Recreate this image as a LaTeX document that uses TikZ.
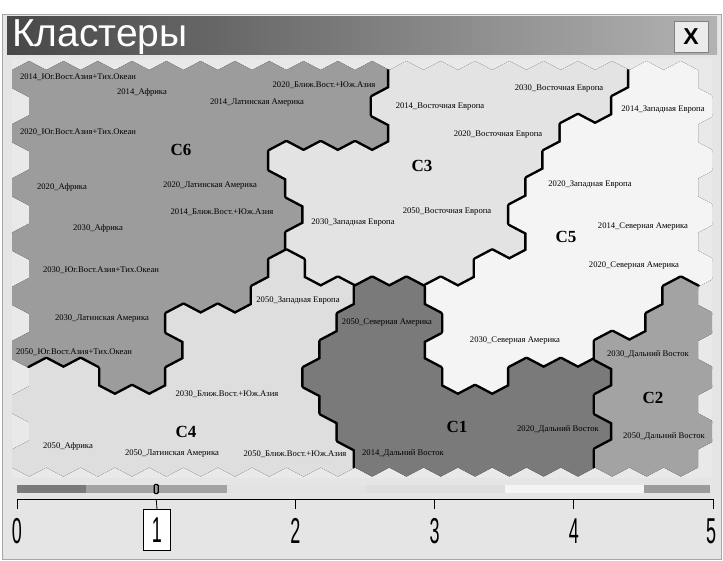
\documentclass[tikz,border=0pt]{standalone}
\usepackage{fontspec}
\usepackage{graphicx}
\setmainfont{Liberation Serif}
\newfontfamily\uisans{Liberation Sans}

% оттенки кластеров
\definecolor{clOne}{gray}{0.48}
\definecolor{clTwo}{gray}{0.64}
\definecolor{clThree}{gray}{0.89}
\definecolor{clFour}{gray}{0.87}
\definecolor{clFive}{gray}{0.955}
\definecolor{clSix}{gray}{0.61}
\definecolor{mapbg}{gray}{0.915}
\definecolor{framebg}{gray}{0.9}

% одна ячейка карты: строка #1, столбец #2
\newcommand\hexcell[2]{({12+(#2+0.5+0.5*mod(#1,2))*34.3},{61+27.1*#1}) -- ++(17.15,9.035) -- ++(0,18.07) -- ++(-17.15,9.035) -- ++(-17.15,-9.035) -- ++(0,-18.07) -- cycle}
% кластер: цвет #1, отрезки строк #2 (строка/от/до)
\newcommand\hexcluster[2]{%
  \draw[line width=5pt, line join=round] foreach \r/\a/\b in {#2} { foreach \c in {\a,...,\b} { \hexcell{\r}{\c} } };
  \fill[#1] foreach \r/\a/\b in {#2} { foreach \c in {\a,...,\b} { \hexcell{\r}{\c} } };
}

\tikzset{
  lbl/.style={inner sep=0pt, font=\fontsize{8.6}{9}\selectfont},
  clname/.style={inner sep=0pt, font=\fontsize{17}{18}\selectfont\bfseries},
  digit/.style={inner sep=1.5pt, font=\uisans\fontsize{36}{36}\selectfont},
}

\begin{document}
\begin{tikzpicture}[x=1pt, y=-1pt]
  \useasboundingbox (0,0) rectangle (723,561);
  \fill[white] (0,0) rectangle (723,561);

  % окно
  \fill[framebg] (2,14) rectangle (721,559);
  \draw[gray!70] (2,14) rectangle (721,559);
  \shade[left color=black!72, right color=black!30] (7,17) rectangle (717,55);
  \node[anchor=west, inner sep=0pt, text=white, font=\uisans\fontsize{39}{39}\selectfont] (title) at (12,37) {Кластеры};
  \node[draw=gray, fill=black!8, minimum width=34pt, minimum height=31pt, inner sep=0pt,
        font=\uisans\bfseries\fontsize{23}{23}\selectfont] (close) at (691,37) {X};

  % карта
  \fill[mapbg] (12,59) rectangle (712,478);
  \begin{scope}
    \clip (12,59) rectangle (712,478);
    \clip foreach \r in {0,...,14} { foreach \c in {0,...,19} { \hexcell{\r}{\c} } };
    \hexcluster{clSix}{0/0/10, 1/0/9, 2/0/10, 3/0/6, 4/0/7, 5/0/7, 6/0/7, 7/0/6, 8/0/6, 9/0/3, 10/0/4, 11/2/3}
    \hexcluster{clThree}{0/11/17, 1/10/16, 2/11/15, 3/7/14, 4/8/14, 5/8/13, 6/8/14, 7/8/12}
    \hexcluster{clFive}{0/18/19, 1/17/19, 2/16/19, 3/15/19, 4/15/19, 5/14/19, 6/15/19, 7/13/19, 8/12/18, 9/12/17, 10/12/16, 11/12/13}
    \hexcluster{clFour}{7/7/7, 8/7/9, 9/4/8, 10/5/8, 11/0/1, 11/4/7, 12/0/8, 13/0/8, 14/0/9}
    \hexcluster{clOne}{8/10/11, 9/9/11, 10/9/11, 11/8/11, 11/14/16, 12/9/16, 13/9/16, 14/10/16}
    \hexcluster{clTwo}{8/19/19, 9/18/19, 10/17/19, 11/17/19, 12/17/19, 13/17/19, 14/17/19}
  \end{scope}

  % подписи C6
  \node[lbl] (s14sea) at (78,77) {2014\_Юг.Вост.Азия+Тих.Океан};
  \node[lbl] (s14af) at (142,92) {2014\_Африка};
  \node[lbl] (s14la) at (257,103) {2014\_Латинская Америка};
  \node[lbl] (s20me) at (324,85) {2020\_Ближ.Вост.+Юж.Азия};
  \node[lbl] (s20sea) at (78,132) {2020\_Юг.Вост.Азия+Тих.Океан};
  \node[clname] (c6) at (181,150) {C6};
  \node[lbl] (s20af) at (62,187) {2020\_Африка};
  \node[lbl] (s20la) at (210,186) {2020\_Латинская Америка};
  \node[lbl] (s14me) at (222,212) {2014\_Ближ.Вост.+Юж.Азия};
  \node[lbl] (s30af) at (98,228) {2030\_Африка};
  \node[lbl] (s30sea) at (101,270) {2030\_Юг.Вост.Азия+Тих.Океан};
  \node[lbl] (s30la) at (102,319) {2030\_Латинская Америка};
  \node[lbl] (s50sea) at (74,352) {2050\_Юг.Вост.Азия+Тих.Океан};
  % подписи C3
  \node[lbl] (s14ee) at (440,107) {2014\_Восточная Европа};
  \node[lbl] (s30ee) at (559,89) {2030\_Восточная Европа};
  \node[lbl] (s20ee) at (498,135) {2020\_Восточная Европа};
  \node[clname] (c3) at (422,166) {C3};
  \node[lbl] (s30we) at (353,223) {2030\_Западная Европа};
  \node[lbl] (s50ee) at (447,212) {2050\_Восточная Европа};
  % подписи C5
  \node[lbl] (s14we) at (663,110) {2014\_Западная Европа};
  \node[lbl] (s20we) at (590,185) {2020\_Западная Европа};
  \node[clname] (c5) at (566,237) {C5};
  \node[lbl] (s14na) at (643,227) {2014\_Северная Америка};
  \node[lbl] (s20na) at (634,266) {2020\_Северная Америка};
  \node[lbl] (s30na) at (515,341) {2030\_Северная Америка};
  % подписи C1
  \node[lbl] (s50na) at (387,323) {2050\_Северная Америка};
  \node[clname] (c1) at (457,427) {C1};
  \node[lbl] (s20fe) at (558,429) {2020\_Дальний Восток};
  \node[lbl] (s14fe) at (403,453) {2014\_Дальний Восток};
  % подписи C2
  \node[lbl] (s30fe) at (648,354) {2030\_Дальний Восток};
  \node[clname] (c2) at (653,398) {C2};
  \node[lbl] (s50fe) at (664,436) {2050\_Дальний Восток};
  % подписи C4
  \node[lbl] (s50we) at (298,301) {2050\_Западная Европа};
  \node[lbl] (s30me) at (227,394) {2030\_Ближ.Вост.+Юж.Азия};
  \node[clname] (c4) at (186,432) {C4};
  \node[lbl] (s50af) at (68,446) {2050\_Африка};
  \node[lbl] (s50la) at (172,454) {2050\_Латинская Америка};
  \node[lbl] (s50me) at (295,454) {2050\_Ближ.Вост.+Юж.Азия};

  % шкала
  \fill[clOne] (17,485) rectangle (86,493);
  \fill[clTwo] (86,485) rectangle (227,493);
  \fill[clThree] (227,485) rectangle (366,493);
  \fill[clFour] (366,485) rectangle (505,493);
  \fill[clFive] (505,485) rectangle (644,493);
  \fill[clSix] (644,485) rectangle (710,493);
  \node[draw, line width=1.3pt, rounded corners=1pt, minimum width=4pt, minimum height=9pt, inner sep=0pt] (thumb) at (156.2,489) {};

  \draw[thick] (17,509) -- (17,499) -- (713,499) -- (713,509);
  \foreach \k in {2,3,4}
    \draw[thick] ({17+139.2*\k},499) -- ({17+139.2*\k},509);
  \coordinate (tick1) at (156.2,499);
  \node[digit] (d0) at (17,531) {\scalebox{0.5}[1]{0}};
  \node[digit, draw, thick, fill=white, minimum width=27pt, minimum height=41pt, inner sep=0pt] (d1) at (157,530) {\scalebox{0.5}[1]{1}};
  \node[digit] (d2) at (295.4,531) {\scalebox{0.5}[1]{2}};
  \node[digit] (d3) at (434.6,531) {\scalebox{0.5}[1]{3}};
  \node[digit] (d4) at (573.8,531) {\scalebox{0.5}[1]{4}};
  \node[digit] (d5) at (711,531) {\scalebox{0.5}[1]{5}};
  \draw[thick] (tick1) -- (d1.north);
\end{tikzpicture}
\end{document}
